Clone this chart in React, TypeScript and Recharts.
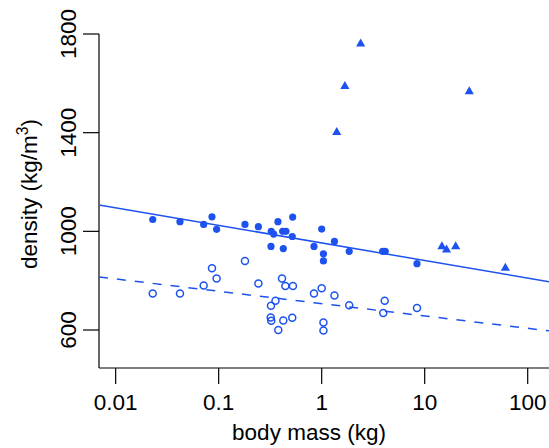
import React from "react";
import { ScatterChart, Scatter, XAxis, YAxis } from "recharts";

// body mass (kg) and density (kg/m^3)
const filledMass = [0.0229, 0.0421, 0.0715, 0.0861, 0.0955, 0.18, 0.243, 0.322, 0.324, 0.342, 0.376, 0.418, 0.424, 0.45, 0.518, 0.523, 0.842, 1.0, 1.04, 1.04, 1.33, 1.85, 3.91, 4.14, 8.42];
const filledDensity = [1048, 1039, 1028, 1059, 1008, 1028, 1019, 939, 1000, 989, 1039, 1000, 930, 1000, 979, 1058, 939, 1009, 909, 880, 959, 919, 919, 919, 869];

const openMass = [0.0229, 0.0421, 0.0715, 0.0861, 0.0955, 0.18, 0.243, 0.32, 0.322, 0.324, 0.356, 0.379, 0.412, 0.424, 0.444, 0.518, 0.526, 0.842, 1.0, 1.04, 1.04, 1.33, 1.85, 3.96, 4.09, 8.42];
const openDensity = [748, 748, 780, 850, 809, 880, 789, 651, 698, 638, 719, 600, 809, 639, 778, 650, 778, 748, 769, 630, 598, 740, 700, 669, 719, 689];

const triMass = [1.4, 1.68, 2.39, 14.7, 16.3, 20.0, 27.1, 60.7];
const triDensity = [1401, 1588, 1760, 938, 925, 938, 1567, 851];

// regression lines: density = a + b * log10(mass)
const solidIntercept = 953;
const solidSlope = -71.3;
const dashedIntercept = 707;
const dashedSlope = -50;

const xTicks = [0.01, 0.1, 1, 10, 100];
const xTickLabels = ["0.01", "0.1", "1", "10", "100"];
const yTicks = [600, 1000, 1400, 1800];
const X_DOMAIN: [number, number] = [0.00689, 161];
const Y_DOMAIN: [number, number] = [446, 1800];

const BLUE = "#1E52EE";
const FONT = "'Liberation Sans', Arial, sans-serif";
const FS = 22.5;

const zip = (xs: number[], ys: number[]) => xs.map((x, i) => ({ x, y: ys[i] }));
const filledData = zip(filledMass, filledDensity);
const openData = zip(openMass, openDensity);
const triData = zip(triMass, triDensity);
const regLine = (a: number, b: number) =>
  X_DOMAIN.map((x) => ({ x, y: a + b * Math.log10(x) }));
const solidData = regLine(solidIntercept, solidSlope);
const dashedData = regLine(dashedIntercept, dashedSlope);

const FilledDot = (p: any) => <circle cx={p.cx} cy={p.cy} r={3.6} fill={BLUE} />;
const OpenDot = (p: any) => (
  <circle cx={p.cx} cy={p.cy} r={3.5} fill="none" stroke={BLUE} strokeWidth={1.5} />
);
const Tri = (p: any) => {
  const r = 5.3;
  const h = r * 0.866;
  return (
    <path
      d={`M${p.cx},${p.cy - r}L${p.cx + h},${p.cy + r / 2}L${p.cx - h},${p.cy + r / 2}Z`}
      fill={BLUE}
    />
  );
};
const NoDot = () => <g />;

const XTick = (p: any) => {
  const i = xTicks.indexOf(p.payload.value);
  return (
    <text x={p.x} y={410} textAnchor="middle" fontFamily={FONT} fontSize={FS} fill="#000">
      {i >= 0 ? xTickLabels[i] : p.payload.value}
    </text>
  );
};
const YTick = (p: any) => (
  <text
    transform={`translate(76, ${p.y}) rotate(-90)`}
    textAnchor="middle"
    fontFamily={FONT}
    fontSize={FS}
    fill="#000"
  >
    {p.payload.value}
  </text>
);

const XTitle = () => (
  <text x={309} y={440} textAnchor="middle" fontFamily={FONT} fontSize={FS} fill="#000">
    body mass (kg)
  </text>
);
const YTitle = () => (
  <text
    transform="translate(37, 194) rotate(-90)"
    textAnchor="middle"
    fontFamily={FONT}
    fontSize={FS}
    fill="#000"
  >
    density (kg/m
    <tspan fontSize={FS * 0.7} dy={-9}>3</tspan>
    <tspan dy={9}>)</tspan>
  </text>
);

export default function App() {
  return (
    <div style={{ position: "absolute", left: 0, top: 0, background: "#fff" }}>
      <ScatterChart width={549} height={448} margin={{ top: 34, right: 0, bottom: 0, left: 0 }}>
        <XAxis
          dataKey="x"
          type="number"
          scale="log"
          domain={X_DOMAIN}
          allowDataOverflow
          ticks={xTicks}
          interval={0}
          height={80}
          tickSize={16}
          axisLine={{ stroke: "#000", strokeWidth: 1.2 }}
          tickLine={{ stroke: "#000", strokeWidth: 1.2 }}
          tick={<XTick />}
          label={{ content: () => <XTitle /> }}
        />
        <YAxis
          dataKey="y"
          type="number"
          domain={Y_DOMAIN}
          allowDataOverflow
          ticks={yTicks}
          interval={0}
          width={99}
          tickSize={16}
          axisLine={{ stroke: "#000", strokeWidth: 1.2 }}
          tickLine={{ stroke: "#000", strokeWidth: 1.2 }}
          tick={<YTick />}
          label={{ content: () => <YTitle /> }}
        />
        <Scatter data={solidData} line={{ stroke: BLUE, strokeWidth: 1.5 }} shape={<NoDot />} isAnimationActive={false} />
        <Scatter data={dashedData} line={{ stroke: BLUE, strokeWidth: 1.5, strokeDasharray: "9 9" }} shape={<NoDot />} isAnimationActive={false} />
        <Scatter data={filledData} shape={<FilledDot />} isAnimationActive={false} />
        <Scatter data={openData} shape={<OpenDot />} isAnimationActive={false} />
        <Scatter data={triData} shape={<Tri />} isAnimationActive={false} />
      </ScatterChart>
    </div>
  );
}
